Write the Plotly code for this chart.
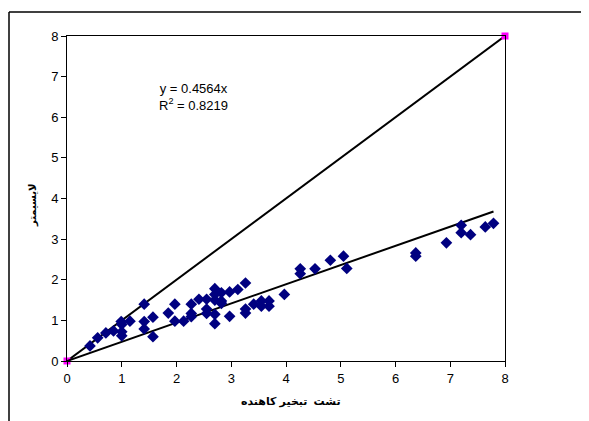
import plotly.graph_objects as go

# Data
pan_evap = [0.42, 0.56, 0.71, 0.85, 0.99, 1.00, 1.00, 1.00, 1.15, 1.41, 1.41, 1.41,
            1.57, 1.57, 1.85, 1.97, 1.97, 2.13, 2.27, 2.27, 2.27, 2.41, 2.55, 2.55,
            2.55, 2.70, 2.70, 2.70, 2.70, 2.70, 2.82, 2.82, 2.82, 2.97, 2.97, 3.12,
            3.26, 3.26, 3.26, 3.41, 3.55, 3.55, 3.69, 3.69, 3.97, 4.26, 4.26, 4.53,
            4.81, 5.05, 5.11, 6.37, 6.37, 6.93, 7.20, 7.20, 7.37, 7.64, 7.79]
lysimeter = [0.37, 0.57, 0.69, 0.74, 0.97, 0.90, 0.72, 0.62, 0.98, 1.40, 0.97, 0.79,
             1.08, 0.60, 1.18, 1.40, 0.98, 0.98, 1.40, 1.17, 1.09, 1.52, 1.52, 1.28,
             1.17, 1.78, 1.64, 1.50, 1.15, 0.92, 1.68, 1.48, 1.42, 1.70, 1.10, 1.76,
             1.92, 1.28, 1.18, 1.40, 1.48, 1.35, 1.48, 1.35, 1.64, 2.27, 2.15, 2.27,
             2.48, 2.58, 2.28, 2.66, 2.58, 2.91, 3.34, 3.16, 3.11, 3.30, 3.39]

ref_x = [0, 8]
ref_y = [0, 8]

slope_label = "0.4564"
r2_label = "0.8219"
# trendline as drawn in the picture (end points)
trend_x = [0, 7.79]
trend_y = [0, 3.68]

x_title = "تشت  تبخیر کاهنده"
y_title = "لایسیمتر"
ticks = [0, 1, 2, 3, 4, 5, 6, 7, 8]

FONT = "Arial, 'Liberation Sans', 'DejaVu Sans', sans-serif"

fig = go.Figure()
fig.add_trace(go.Scatter(
    x=ref_x, y=ref_y, mode="lines+markers",
    line=dict(color="black", width=2),
    marker=dict(symbol="square", color="#FF00FF", size=7),
    showlegend=False, cliponaxis=False))
fig.add_trace(go.Scatter(
    x=trend_x, y=trend_y, mode="lines",
    line=dict(color="black", width=2), showlegend=False))
fig.add_trace(go.Scatter(
    x=pan_evap, y=lysimeter, mode="markers",
    marker=dict(symbol="diamond", color="#000080", size=9),
    showlegend=False))

OFF = 8  # page body margin
W, H = 589 - OFF, 421 - OFF
L, R, T, B = 67 - OFF, 505 - OFF, 36 - OFF, 361 - OFF
pw, ph = R - L, B - T

def px(x):
    return (x - OFF - L) / pw

def py(y):
    return (B - (y - OFF)) / ph

fig.update_layout(
    width=W, height=H,
    margin=dict(l=L, r=W - R, t=T, b=H - B, pad=0),
    paper_bgcolor="white", plot_bgcolor="white",
    font=dict(family=FONT, size=13, color="black"),
    xaxis=dict(range=[0, 8], tickvals=ticks, showgrid=False, zeroline=False,
               showline=True, linecolor="black", linewidth=1, mirror=True,
               ticks="outside", ticklen=5, tickcolor="black",
               tickfont=dict(size=13)),
    yaxis=dict(range=[0, 8], tickvals=ticks, showgrid=False, zeroline=False,
               showline=True, linecolor="black", linewidth=1, mirror=True,
               ticks="outside", ticklen=5, tickcolor="black",
               tickfont=dict(size=13)),
    annotations=[
        dict(text=f"y = {slope_label}x<br>R<sup>2</sup> = {r2_label}",
             xref="paper", yref="paper", x=px(193), y=py(97),
             xanchor="center", yanchor="middle", showarrow=False, align="center",
             font=dict(size=13, family=FONT)),
        dict(text=f"<b>{x_title}</b>", xref="paper", yref="paper",
             x=px(291), y=py(402), xanchor="center", yanchor="middle",
             showarrow=False, font=dict(size=11, family=FONT)),
        dict(text=f"<b>{y_title}</b>", xref="paper", yref="paper",
             x=px(33), y=py(206), xanchor="center", yanchor="middle",
             showarrow=False, textangle=-90,
             font=dict(size=10, family=FONT)),
    ],
    shapes=[
        dict(type="line", xref="paper", yref="paper",
             x0=px(9), x1=px(9), y0=py(421), y1=py(12),
             line=dict(color="black", width=1.5)),
        dict(type="line", xref="paper", yref="paper",
             x0=px(9), x1=px(589), y0=py(12), y1=py(12),
             line=dict(color="black", width=1.5)),
    ],
)

fig.write_html("out.html", config={"displayModeBar": False})
